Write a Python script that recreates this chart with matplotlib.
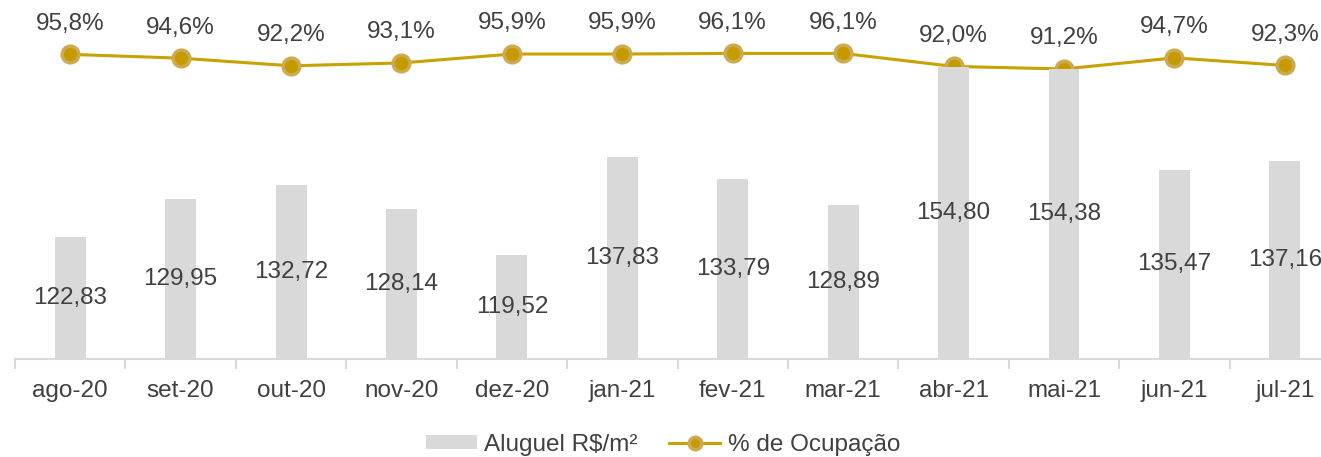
import matplotlib.pyplot as plt
import numpy as np

plt.rcParams.update({
    "font.family": ['Liberation Sans', 'DejaVu Sans'],
    "font.size": 17.5,
})

# dados
meses = ['ago-20', 'set-20', 'out-20', 'nov-20', 'dez-20', 'jan-21',
         'fev-21', 'mar-21', 'abr-21', 'mai-21', 'jun-21', 'jul-21']
aluguel = [122.83, 129.95, 132.72, 128.14, 119.52, 137.83,
           133.79, 128.89, 154.80, 154.38, 135.47, 137.16]
ocupacao = [95.8, 94.6, 92.2, 93.1, 95.9, 95.9, 96.1, 96.1, 92.0, 91.2, 94.7, 92.3]

cinza = '#D9D9D9'
ouro = '#C8A200'
texto = '#404040'
fs = 17.5

W, H = 1321, 457
fig = plt.figure(figsize=(W / 100, H / 100), dpi=100)
# eixo estende um pouco além da borda direita
ax = fig.add_axes([15 / W, (H - 359) / H, 1325 / W, 329 / H])
ax2 = ax.twinx()

x = np.arange(len(meses))
bars = ax.bar(x, aluguel, 0.28, color=cinza, label='Aluguel R$/m²', zorder=2)
ax.set_ylim(100, 100 + 329 / 5.33)
ax.set_xlim(-0.5, len(meses) - 0.5)

for xi, v in zip(x, aluguel):
    ax.text(xi, (100 + v) / 2, f'{v:.2f}'.replace('.', ','), ha='center', va='center',
            color=texto, fontsize=fs, zorder=3)

linha, = ax2.plot(x, ocupacao, color=ouro, lw=2.2, marker='o', markersize=12,
                  markerfacecolor='#C49A00', markeredgecolor='#CDAA50', markeredgewidth=2.5,
                  label='% de Ocupação', zorder=4)
ax2.set_ylim(0, 329 / 3.18)
for xi, v in zip(x, ocupacao):
    ax2.annotate(f'{v:.1f}%'.replace('.', ','), (xi, v), xytext=(0, 22),
                 textcoords='offset points', ha='center', va='center',
                 color=texto, fontsize=fs)

for a in (ax, ax2):
    for s in ['top', 'right', 'left']:
        a.spines[s].set_visible(False)
    a.set_yticks([])
ax2.spines['bottom'].set_visible(False)
ax.spines['bottom'].set_color(cinza)
ax.spines['bottom'].set_linewidth(1.5)

ax.set_xticks(x)
ax.set_xticklabels(meses, color=texto, fontsize=fs)
ax.tick_params(axis='x', which='major', length=0, pad=15)
ax.set_xticks(np.arange(-0.5, len(meses)), minor=True)
ax.tick_params(axis='x', which='minor', length=7, width=1.5, color=cinza)

ax.set_zorder(ax2.get_zorder() + 1)
ax.patch.set_visible(False)

leg = fig.legend([bars, linha], ['Aluguel R$/m²', '% de Ocupação'], loc='center',
                 bbox_to_anchor=(663 / W, 12 / H), ncol=2, frameon=False,
                 fontsize=fs, handlelength=2.1, handleheight=0.5, columnspacing=1.3,
                 handletextpad=0.3, markerscale=0.75, labelcolor=texto)

fig.savefig('out.png', dpi=100)
